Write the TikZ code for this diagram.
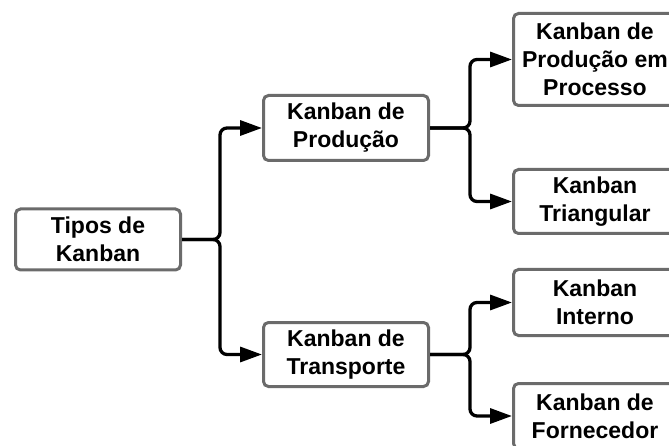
\documentclass[tikz,border=0pt]{standalone}
\usepackage{fontspec}
\setmainfont{Liberation Sans}
\usetikzlibrary{arrows.meta}
\begin{document}
\begin{tikzpicture}[x=1pt,y=-1pt,
  box/.style={draw=black!58, line width=3pt, rounded corners=5pt, fill=white,
    align=center, inner sep=0pt, text=black,
    font=\fontsize{23}{28}\selectfont\bfseries},
  link/.style={line width=3.3pt, rounded corners=7pt, -{Triangle[length=22pt,width=15pt]}}]
\useasboundingbox (0,0) rectangle (669,446);
% boxes
\node[box, minimum width=165pt, minimum height=61pt] (tipos) at (98,239.5) {Tipos de\\Kanban};
\node[box, minimum width=165pt, minimum height=65pt] (prod) at (346,128) {Kanban de\\Produção};
\node[box, minimum width=165pt, minimum height=64pt] (transp) at (346,354.5) {Kanban de\\Transporte};
\node[box, minimum width=163pt, minimum height=92pt] (proc) at (595,59.5) {Kanban de\\Produção em\\Processo};
\node[box, minimum width=163pt, minimum height=64pt] (tri) at (595,201.5) {Kanban\\Triangular};
\node[box, minimum width=163pt, minimum height=66pt] (int) at (595,302.5) {Kanban\\Interno};
\node[box, minimum width=163pt, minimum height=65pt] (forn) at (595,416) {Kanban de\\Fornecedor};
% branch points
\coordinate (j1) at (220,239.5);
\coordinate (j2) at (470,128);
\coordinate (j3) at (470,354.5);
% connectors
\draw[link] (tipos.east) -- (j1) |- (prod.west);
\draw[link] (tipos.east) -- (j1) |- (transp.west);
\draw[link] (prod.east) -- (j2) |- (proc.west);
\draw[link] (prod.east) -- (j2) |- (tri.west);
\draw[link] (transp.east) -- (j3) |- (int.west);
\draw[link] (transp.east) -- (j3) |- (forn.west);
\end{tikzpicture}
\end{document}
